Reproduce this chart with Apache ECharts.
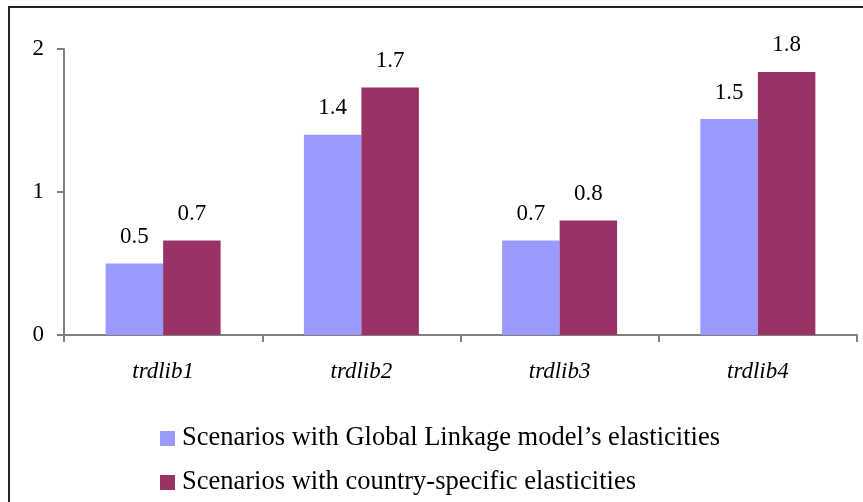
<!DOCTYPE html>
<html>
<head>
<meta charset="utf-8">
<script src="https://cdn.jsdelivr.net/npm/echarts@6/dist/echarts.min.js"></script>
<style>
  html, body { margin: 0; padding: 0; background: #fff; }
  #chart { width: 863px; height: 502px; }
</style>
</head>
<body>
<div id="chart"></div>
<script>
// Trade-liberalisation scenarios and their effects
const categories = ['trdlib1', 'trdlib2', 'trdlib3', 'trdlib4'];
const seriesNames = [
  'Scenarios with Global Linkage model\u2019s elasticities',
  'Scenarios with country-specific elasticities'
];
const globalLinkage = [0.50, 1.40, 0.66, 1.51];
const countrySpecific = [0.66, 1.73, 0.80, 1.84];
const yTicks = [0, 1, 2];

const FONT = '"Liberation Serif", "DejaVu Serif", serif';
const AXIS_COLOR = '#7f7f7f';

const chart = echarts.init(document.getElementById('chart'), null, { renderer: 'canvas' });

function barLabel() {
  return {
    show: true,
    position: 'top',
    distance: 15,
    color: '#000',
    fontFamily: FONT,
    fontSize: 23,
    formatter: p => p.value.toFixed(1)
  };
}

// one legend block per series, stacked one above the other
function legendRow(name, top) {
  return {
    left: 160,
    top: top,
    padding: 0,
    icon: 'rect',
    itemWidth: 15,
    itemHeight: 15,
    itemGap: 0,
    textStyle: { color: '#000', fontFamily: FONT, fontSize: 26.5, padding: [0, 0, 0, 2] },
    data: [name]
  };
}

chart.setOption({
  animation: false,
  backgroundColor: '#fff',
  graphic: [{
    type: 'rect',
    shape: { x: 9, y: 7, width: 900, height: 600 },
    style: { fill: 'none', stroke: '#222', lineWidth: 2 },
    silent: true,
    z: 100
  }],
  grid: { left: 64, right: 6, top: 49, bottom: 167, containLabel: false },
  legend: [
    legendRow(seriesNames[0], 425),
    legendRow(seriesNames[1], 469)
  ],
  xAxis: {
    type: 'category',
    data: categories,
    axisLine: { lineStyle: { color: AXIS_COLOR, width: 2 } },
    axisTick: { show: true, length: 7, lineStyle: { color: AXIS_COLOR, width: 2 } },
    axisLabel: { margin: 25, color: '#000', fontFamily: FONT, fontSize: 23, fontStyle: 'italic' }
  },
  yAxis: {
    type: 'value',
    min: yTicks[0],
    max: yTicks[yTicks.length - 1],
    interval: 1,
    splitLine: { show: false },
    axisLine: { show: true, lineStyle: { color: AXIS_COLOR, width: 2 } },
    axisTick: { show: true, length: 7, lineStyle: { color: AXIS_COLOR, width: 2 } },
    axisLabel: { margin: 20, color: '#000', fontFamily: FONT, fontSize: 23 }
  },
  series: [
    {
      name: seriesNames[0],
      type: 'bar',
      data: globalLinkage,
      barGap: '0%',
      barCategoryGap: '42%',
      itemStyle: { color: '#9999FF' },
      label: barLabel()
    },
    {
      name: seriesNames[1],
      type: 'bar',
      data: countrySpecific,
      itemStyle: { color: '#993366' },
      label: barLabel()
    }
  ]
});
</script>
</body>
</html>
